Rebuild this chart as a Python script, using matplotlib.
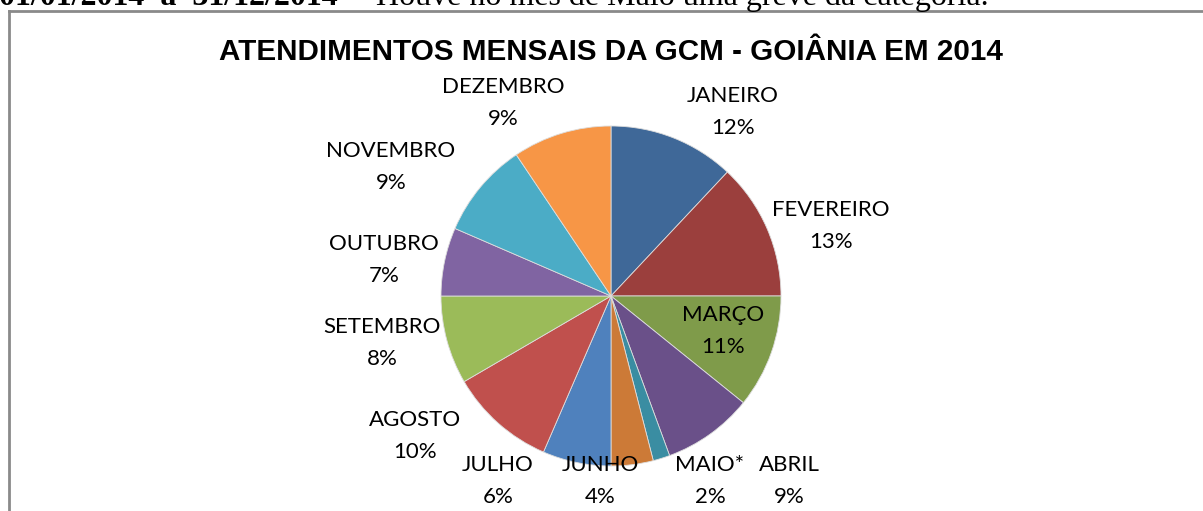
import matplotlib.pyplot as plt
from matplotlib.lines import Line2D

# monthly share of calls (percent)
meses = ["JANEIRO", "FEVEREIRO", "MARÇO", "ABRIL", "MAIO*", "JUNHO",
         "JULHO", "AGOSTO", "SETEMBRO", "OUTUBRO", "NOVEMBRO", "DEZEMBRO"]
valores = [12.0, 13.0, 10.8, 8.6, 1.6, 4.0, 6.5, 10.1, 8.4, 6.5, 9.1, 9.4]
rotulos = ["12%", "13%", "11%", "9%", "2%", "4%", "6%", "10%", "8%", "7%", "9%", "9%"]
cores = ["#3F6898", "#9B3F3D", "#7F9B4A", "#6A5089", "#3A8DA2", "#CC7A37",
         "#4F81BD", "#C0504D", "#9BBB59", "#8064A2", "#4BACC6", "#F79646"]

# label centres in pixels (x from left, y from top)
pos_rotulos = [(733, 112), (831, 226), (723, 331), (789, 481), (710, 481), (600, 481),
               (498, 481), (415, 436), (382, 343), (384, 260), (391, 167), (503, 103)]

W, H = 1203, 511
fig = plt.figure(figsize=(W / 100, H / 100), dpi=100)

cx, cy, r = 611, 296, 170
ax = fig.add_axes([(cx - r) / W, (H - cy - r) / H, 2 * r / W, 2 * r / H])
ax.pie(valores, colors=cores, startangle=90, counterclock=False, radius=1,
       wedgeprops=dict(linewidth=0.6, edgecolor="#dddddd"))
ax.set_xlim(-1, 1)
ax.set_ylim(-1, 1)
ax.set_aspect("auto")
ax.axis("off")

for nome, pct, (px, py) in zip(meses, rotulos, pos_rotulos):
    fig.text(px / W, 1 - py / H, nome + "\n" + pct, ha="center", va="center",
             fontsize=16, family="Lato", linespacing=1.75, color="black")

fig.text(611 / W, 1 - 52 / H, "ATENDIMENTOS MENSAIS DA GCM - GOIÂNIA EM 2014",
         ha="center", va="center", fontsize=21.3, fontweight="bold",
         family="Liberation Sans")

# cut-off line of text from the document above the chart
fig.text(-1 / W, 1 - 5 / H, "01/01/2014  a  31/12/2014", ha="left", va="baseline",
         fontsize=23, fontweight="bold", family="Liberation Serif")
fig.text(352 / W, 1 - 5 / H, "– Houve no mês de Maio uma greve da categoria.",
         ha="left", va="baseline", fontsize=23, family="Liberation Serif")

# chart frame
borda = "#8a8a8a"
fig.add_artist(Line2D([9 / W, 1], [1 - 11 / H, 1 - 11 / H], color=borda, lw=2,
                      transform=fig.transFigure))
fig.add_artist(Line2D([9 / W, 9 / W], [0, 1 - 11 / H], color=borda, lw=2,
                      transform=fig.transFigure))

fig.savefig("out.png", dpi=100)
